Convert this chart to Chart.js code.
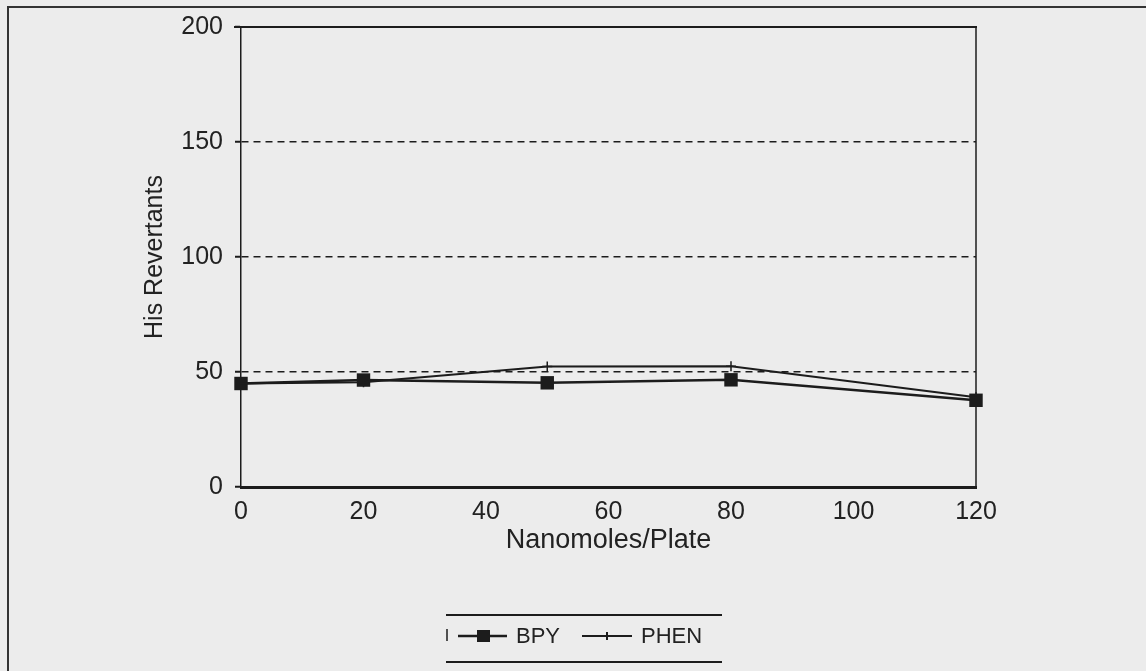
<!DOCTYPE html>
<html>
<head>
<meta charset="utf-8">
<script src="https://cdn.jsdelivr.net/npm/chart.js@4.4.0/dist/chart.umd.min.js"></script>
<style>
  html, body { margin: 0; padding: 0; background: #ececec; }
  #wrap { width: 1146px; height: 671px; }
</style>
</head>
<body>
<div id="wrap"><canvas id="myChart" width="1146" height="671"></canvas></div>
<script>
// dose levels (nanomoles/plate)
const doses = [0, 20, 50, 80, 120];
// his revertants per plate
const bpy = [45, 46.5, 45.3, 46.6, 37.7];
const phen = [45, 45.5, 52.4, 52.5, 39];
const seriesNames = ["BPY", "PHEN"];
const yTicks = [0, 50, 100, 150, 200];
const xTicks = [0, 20, 40, 60, 80, 100, 120];

const ink = "#1c1c1c";
const textInk = "#222";
const fontFam = "'Liberation Sans', Arial, Helvetica, sans-serif";

// frame round the plot and round the page, plus the boxed legend
const framePlugin = {
  id: "frame",
  beforeDatasetsDraw(chart) {
    const c = chart.ctx;
    const a = chart.chartArea;
    c.save();
    c.strokeStyle = ink;
    // top line at 200, drawn from the tick
    c.lineWidth = 2;
    c.beginPath();
    c.moveTo(a.left - 7, a.top);
    c.lineTo(a.right + 1, a.top);
    c.stroke();
    // right side
    c.lineWidth = 1.5;
    c.beginPath();
    c.moveTo(a.right, a.top);
    c.lineTo(a.right, a.bottom);
    c.stroke();
    // page border (top and left)
    c.lineWidth = 2;
    c.strokeStyle = "#333";
    c.beginPath();
    c.moveTo(8, 671);
    c.lineTo(8, 7);
    c.lineTo(1146, 7);
    c.stroke();
    c.restore();
  },
  afterDraw(chart) {
    const c = chart.ctx;
    c.save();
    c.strokeStyle = ink;
    c.fillStyle = ink;
    // legend box: only top and bottom rules
    c.lineWidth = 2;
    c.beginPath();
    c.moveTo(446, 615); c.lineTo(722, 615);
    c.moveTo(446, 662); c.lineTo(722, 662);
    c.stroke();
    c.lineWidth = 1.5;
    c.beginPath();
    c.moveTo(447, 629); c.lineTo(447, 641);
    c.stroke();

    const ly = 636;
    // BPY sample
    c.lineWidth = 2.5;
    c.beginPath();
    c.moveTo(458, ly); c.lineTo(507, ly);
    c.stroke();
    c.fillRect(477, ly - 6, 13, 12);
    // PHEN sample
    c.lineWidth = 2;
    c.beginPath();
    c.moveTo(582, ly); c.lineTo(632, ly);
    c.moveTo(607, ly - 4); c.lineTo(607, ly + 4);
    c.stroke();

    c.font = "22px " + fontFam;
    c.textBaseline = "middle";
    c.textAlign = "left";
    c.fillStyle = textInk;
    c.fillText(seriesNames[0], 516, ly + 1);
    c.fillText(seriesNames[1], 641, ly + 1);
    c.restore();
  }
};

const ctx = document.getElementById("myChart");
new Chart(ctx, {
  type: "line",
  data: {
    datasets: [
      {
        label: seriesNames[1],
        data: doses.map((d, i) => ({ x: d, y: phen[i] })),
        borderColor: ink,
        borderWidth: 2,
        pointStyle: "cross",
        pointRadius: 5,
        pointBorderWidth: 1.5,
        pointBorderColor: ink,
        pointBackgroundColor: ink,
        tension: 0,
        clip: false,
      },
      {
        label: seriesNames[0],
        data: doses.map((d, i) => ({ x: d, y: bpy[i] })),
        borderColor: ink,
        borderWidth: 2.5,
        pointStyle: "rect",
        pointRadius: 9.5,
        pointBorderWidth: 0,
        pointBackgroundColor: ink,
        pointBorderColor: ink,
        tension: 0,
        clip: false,
      },
    ],
  },
  options: {
    responsive: false,
    animation: false,
    events: [],
    layout: { padding: { top: 25, right: 170, left: 0, bottom: 0 } },
    plugins: { legend: { display: false }, tooltip: { enabled: false } },
    scales: {
      x: {
        type: "linear",
        min: 0,
        max: 120,
        afterFit(scale) { scale.height = 184; },
        afterBuildTicks(scale) { scale.ticks = xTicks.map(v => ({ value: v })); },
        grid: { drawOnChartArea: false, drawTicks: false },
        border: { display: true, color: ink, width: 3 },
        ticks: { color: textInk, padding: 10, maxRotation: 0, font: { family: fontFam, size: 25 } },
        title: {
          display: true,
          text: "Nanomoles/Plate",
          color: textInk,
          font: { family: fontFam, size: 27 },
          padding: { top: 0, bottom: 114 },
        },
      },
      y: {
        min: 0,
        max: 200,
        afterFit(scale) { scale.width = 241; },
        afterBuildTicks(scale) { scale.ticks = yTicks.map(v => ({ value: v })); },
        grid: {
          color: (c) => (c.tick && (c.tick.value === 0 || c.tick.value === 200)) ? "rgba(0,0,0,0)" : ink,
          tickColor: ink,
          lineWidth: 1.5,
          tickLength: 6,
          tickWidth: 2,
        },
        border: { display: true, color: ink, width: 1.5, dash: [7, 5] },
        ticks: { color: textInk, padding: 12, font: { family: fontFam, size: 25 } },
        title: {
          display: true,
          text: "His Revertants",
          color: textInk,
          font: { family: fontFam, size: 25 },
          padding: { top: 140, bottom: 0 },
        },
      },
    },
  },
  plugins: [framePlugin],
});
</script>
</body>
</html>
